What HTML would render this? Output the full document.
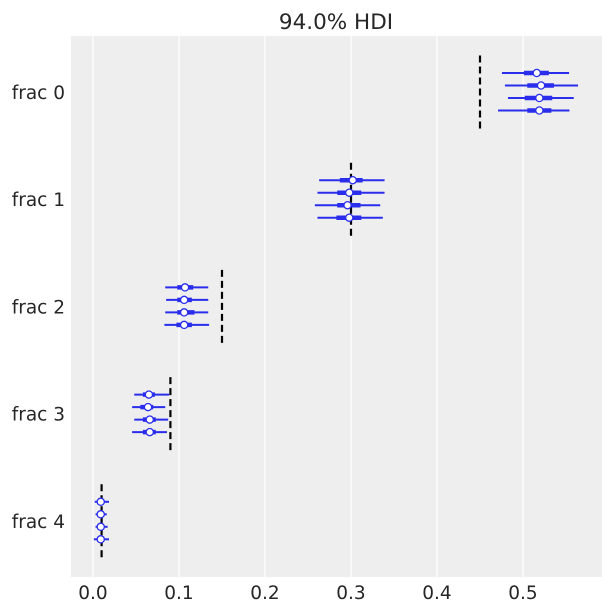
<!DOCTYPE html>
<html><head><meta charset="utf-8"><style>
body{margin:0;background:#fff;}
svg{display:block;font-family:"DejaVu Sans","Liberation Sans",sans-serif;}
</style></head><body>
<svg id="chart" width="611" height="611" viewBox="0 0 611 611"></svg>
<script>
const categories = ["frac 0","frac 1","frac 2","frac 3","frac 4"];
const refValues = [0.45, 0.30, 0.15, 0.09, 0.01];
const hdiLow = [[0.4755,0.479,0.4825,0.471],[0.263,0.261,0.258,0.261],[0.084,0.085,0.084,0.083],[0.048,0.0455,0.048,0.0455],[0.002,0.003,0.003,0.001]];
const hdiHigh = [[0.5536,0.564,0.559,0.554],[0.339,0.339,0.334,0.337],[0.134,0.134,0.134,0.135],[0.0886,0.084,0.0874,0.086],[0.0186,0.016,0.017,0.0186]];
const iqrLow = [[0.501,0.505,0.502,0.505],[0.287,0.284,0.284,0.283],[0.098,0.098,0.098,0.097],[0.058,0.055,0.058,0.058],[0.005,0.005,0.005,0.005]];
const iqrHigh = [[0.530,0.536,0.534,0.533],[0.3135,0.312,0.311,0.312],[0.1165,0.115,0.118,0.115],[0.072,0.070,0.073,0.073],[0.013,0.013,0.013,0.013]];
const medians = [[0.516,0.521,0.519,0.519],[0.302,0.298,0.296,0.298],[0.107,0.106,0.106,0.106],[0.065,0.064,0.066,0.066],[0.009,0.009,0.009,0.009]];
const xTicks = [0.0,0.1,0.2,0.3,0.4,0.5];
const xTickLabels = ["0.0","0.1","0.2","0.3","0.4","0.5"];

const NS="http://www.w3.org/2000/svg";
const svg=document.getElementById('chart');
const L=71,T=36,R=602,B=577;
const xs=v=>93+v*860;
const groupY=i=>92.5+i*107.2;
const lineOff=[-19.5,-7,5.5,18];
function el(tag,attrs,parent){const e=document.createElementNS(NS,tag);for(const k in attrs)e.setAttribute(k,attrs[k]);(parent||svg).appendChild(e);return e;}

const bg=el('rect',{x:L,y:T,width:R-L,height:B-T,fill:'#eeeeee'});



xTicks.forEach((t,i)=>{
  const g=el('line',{x1:xs(t),x2:xs(t),y1:T,y2:B,stroke:'#fff','stroke-width':1.2});
  
  
  const tx=el('text',{x:xs(t),y:599,'text-anchor':'middle','font-size':18.5,fill:'#262626'});
  tx.textContent=xTickLabels[i];
  
  
});

const title=el('text',{x:336,y:29,'text-anchor':'middle','font-size':21.5,fill:'#262626'});
title.textContent="94.0% HDI";



categories.forEach((c,i)=>{
  const cy=groupY(i);
  const lab=el('text',{x:65,y:cy+6.5,'text-anchor':'end','font-size':18.5,fill:'#262626'});
  lab.textContent=c;
  
  
  const ref=el('line',{x1:xs(refValues[i]),x2:xs(refValues[i]),y1:cy-37,y2:cy+37,stroke:'#000','stroke-width':2.2,'stroke-dasharray':'7,4'});
  
  
  for(let j=0;j<4;j++){
    const y=cy+lineOff[j];
    const g=el('g',{});
    
    
    el('line',{x1:xs(hdiLow[i][j]),x2:xs(hdiHigh[i][j]),y1:y,y2:y,stroke:'#2a2eec','stroke-width':2},g);
    el('line',{x1:xs(iqrLow[i][j]),x2:xs(iqrHigh[i][j]),y1:y,y2:y,stroke:'#2a2eec','stroke-width':4.5},g);
    el('circle',{cx:xs(medians[i][j]),cy:y,r:3.6,fill:'#fff',stroke:'#2a2eec','stroke-width':1.3},g);
  }
});
</script>
</body></html>
